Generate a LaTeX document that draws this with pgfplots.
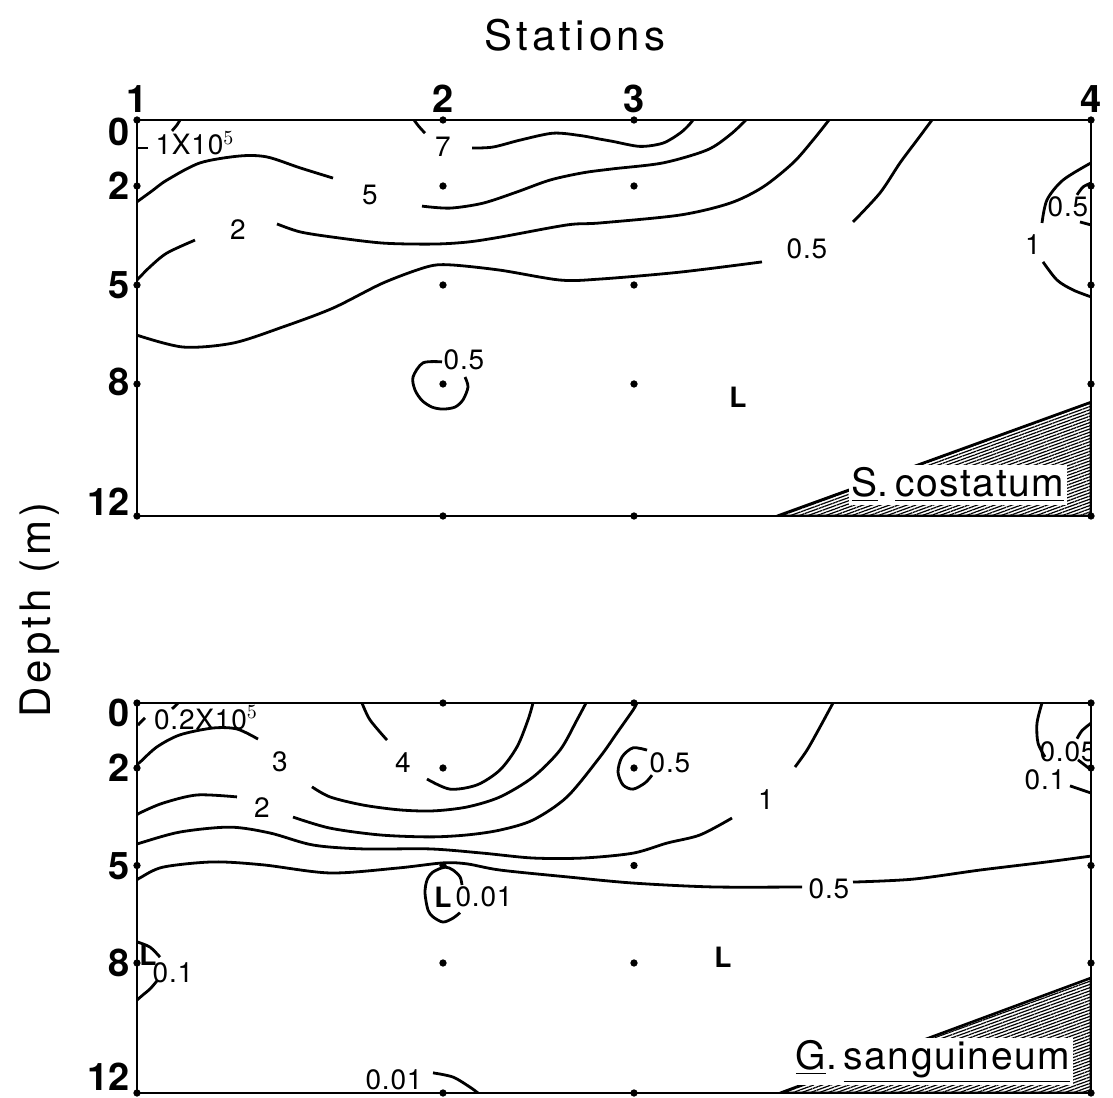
\documentclass[border=0pt]{standalone}
\usepackage{fontspec}
\setmainfont{TeX Gyre Heros}
\setsansfont{TeX Gyre Heros}
\usepackage{pgfplots}
\pgfplotsset{compat=1.18}
\usetikzlibrary{patterns.meta}

\newcommand\tl{\fontsize{19}{19}\selectfont\bfseries}
\newcommand\clab{\fontsize{14}{15}\selectfont\addfontfeatures{LetterSpace=3}}
\newcommand\splab{\fontsize{19.5}{20}\selectfont\addfontfeatures{LetterSpace=4}}
\newcommand\ttl{\fontsize{21}{22}\selectfont\addfontfeatures{LetterSpace=10}}
\newcommand\rb[2]{\raisebox{#1}[0pt][0pt]{\textbf{#2}}}

\pgfplotsset{
  panel/.style={
    anchor=south west, scale only axis, width=477pt,
    xmin=137, xmax=1091, ymin=0, ymax=12, y dir=reverse,
    axis line style={line width=1.4pt},
    major tick length=0pt,
    xtick={137,443,634,1091},
    ytick={0,2,5,8,12},
    yticklabel style={font=\tl},
    xticklabel style={font=\tl},
    clip=true,
  },
  cl/.style={black, line width=1.4pt, smooth, no marks},
  dots/.style={black, only marks, mark=*, mark size=1.6pt},
  tri/.style={draw=black, line width=1.3pt, pattern={Lines[angle=20,distance=1.5pt,line width=0.6pt]}},
}

\begin{document}
\begin{tikzpicture}[x=1pt,y=1pt]
\useasboundingbox (0,0) rectangle (556.5,548.5);

\node[font=\ttl] at (287.5,531) {Stations};
\node[font=\ttl, rotate=90] at (20,243.5) {Depth (m)};

% ---------------- top panel: S. costatum ----------------
\begin{axis}[panel, at={(68.5pt,290.5pt)}, height=198pt,
  xticklabel pos=upper,
  xticklabels={\textbf{1},\textbf{2},\textbf{3},\textbf{4}},
  yticklabels={\rb{-13pt}{0},\rb{-6.8pt}{2},\rb{-6.8pt}{5},\rb{-6pt}{8},\rb{0pt}{12}}]
\addplot[tri] coordinates {(777,12) (1091,8.55) (1091,12) (777,12)};
% 1x10^5
\addplot[cl] coordinates {(180,0) (177,0.15) (172,0.33)};
\addplot[black, line width=1.4pt, no marks] coordinates {(148,0.85) (137,0.85)};
% 7
\addplot[cl] coordinates {(414,0) (419,0.2) (425,0.4)};
\addplot[cl] coordinates {(472,0.85) (493,0.82) (520,0.61) (553,0.40) (580,0.47) (600,0.58) (613,0.65) (640,0.80) (663,0.70) (680,0.40) (689,0.15) (693,0)};
% 5
\addplot[cl] coordinates {(137,2.48) (152,2.15) (167,1.82) (200,1.30) (240,1.09) (267,1.12) (300,1.45) (333,1.76)};
\addplot[cl] coordinates {(422,2.61) (450,2.67) (483,2.52) (517,2.18) (550,1.82) (583,1.60) (613,1.48) (663,1.30) (707,0.91) (730,0.45) (746,0)};
% 2
\addplot[cl] coordinates {(137,4.85) (150,4.45) (167,4.03) (195,3.64)};
\addplot[cl] coordinates {(277,3.15) (300,3.39) (333,3.55) (383,3.73) (433,3.76) (467,3.70) (500,3.55) (567,3.18) (600,3.12) (680,2.88) (730,2.52) (763,2.03) (793,1.30) (813,0.61) (829,0)};
% 0.5 (long)
\addplot[cl] coordinates {(137,6.52) (183,6.88) (233,6.76) (283,6.27) (333,5.70) (383,4.94) (427,4.45) (450,4.39) (500,4.55) (560,4.85) (600,4.82) (680,4.61) (762,4.30)};
\addplot[cl] coordinates {(853,3.09) (880,2.21) (900,1.30) (917,0.61) (932,0)};
% station 4: 1 and 0.5
\addplot[cl] coordinates {(1091,1.30) (1063,1.82) (1047,2.42) (1042,3.12)};
\addplot[cl] coordinates {(1043,4.30) (1057,4.85) (1073,5.15) (1091,5.36)};
\addplot[cl] coordinates {(1091,1.91) (1083,2.03) (1077,2.27)};
\addplot[cl] coordinates {(1080,3.09) (1091,3.18)};
% 0.5 circle at station 2, 8 m
\addplot[cl] coordinates {(442,7.33) (423,7.36) (413,7.79) (415,8.18) (422,8.5) (432,8.7) (443,8.76) (455,8.7) (463,8.48) (468,8.09) (465,7.79)};
% sampling points
\addplot[dots] coordinates {(137,0) (137,2) (137,5) (137,8) (137,12)
  (443,0) (443,2) (443,5) (443,8) (443,12)
  (634,0) (634,2) (634,5) (634,8) (634,12)
  (1091,0) (1091,2) (1091,5) (1091,8) (1091,12)};
% labels
\node[font=\clab] at (axis cs:195,0.70) {1X10$^{5}$};
\node[font=\clab] at (axis cs:443,0.82) {7};
\node[font=\clab] at (axis cs:370,2.27) {5};
\node[font=\clab] at (axis cs:238,3.33) {2};
\node[font=\clab] at (axis cs:807,3.91) {0.5};
\node[font=\clab] at (axis cs:1033,3.79) {1};
\node[font=\clab, inner sep=0pt] at (axis cs:1068,2.64) {0.5};
\node[font=\clab] at (axis cs:464,7.27) {0.5};
\node[font=\clab\bfseries] at (axis cs:738,8.39) {L};
\node[font=\splab, fill=white, inner sep=1.5pt, anchor=base] at (axis cs:958,11.42) {\underline{S}.\,\underline{costatum}};
\end{axis}

% ---------------- bottom panel: G. sanguineum ----------------
\begin{axis}[panel, at={(68.5pt,2pt)}, height=195pt,
  xticklabels={},
  yticklabels={\rb{-12pt}{0},\rb{-6.8pt}{2},\rb{-6.8pt}{5},\rb{-6.8pt}{8},\rb{1.5pt}{12}}]
\addplot[tri] coordinates {(780,12) (1091,8.46) (1091,12) (780,12)};
% 0.2x10^5
\addplot[cl] coordinates {(178,0) (175,0.1) (172,0.18)};
\addplot[cl] coordinates {(145,0.46) (141,0.58) (138,0.68)};
% 3
\addplot[cl] coordinates {(137,1.88) (140,1.82) (157,1.35) (180,0.98) (213,0.77) (237,0.80) (258,1.11)};
\addplot[cl] coordinates {(312,2.58) (330,2.89) (363,3.14) (400,3.29) (433,3.32) (467,3.20) (500,2.89) (533,2.28) (560,1.45) (577,0.52) (586,0)};
% 4
\addplot[cl] coordinates {(362,0) (370,0.52) (387,1.14)};
\addplot[cl] coordinates {(427,2.34) (450,2.65) (477,2.52) (500,2.06) (517,1.35) (528,0.52) (533,0)};
% 2
\addplot[cl] coordinates {(137,3.45) (140,3.38) (163,3.08) (197,2.83) (237,2.89)};
\addplot[cl] coordinates {(293,3.51) (330,3.85) (380,4.06) (430,4.12) (467,4.06) (500,3.91) (533,3.60) (567,2.89) (600,1.66) (617,0.92) (633,0.22) (637,0)};
% 1
\addplot[cl] coordinates {(137,4.35) (140,4.31) (180,3.97) (230,3.82) (270,4.00) (313,4.37) (363,4.49) (430,4.49) (483,4.62) (533,4.77) (583,4.77) (633,4.62) (667,4.31) (700,4.06) (732,3.54)};
\addplot[cl] coordinates {(795,1.97) (807,1.45) (820,0.74) (833,0)};
% 0.5
\addplot[cl] coordinates {(137,5.45) (140,5.38) (163,5.05) (213,4.89) (263,4.98) (330,5.23) (397,5.08) (443,4.92) (467,4.95) (500,5.14) (567,5.35) (633,5.54) (713,5.66) (802,5.66)};
\addplot[cl] coordinates {(853,5.51) (913,5.42) (980,5.14) (1047,4.89) (1091,4.71)};
% 0.01 circle at station 2
\addplot[cl] coordinates {(462,5.6) (460,5.35) (453,5.14) (445,5.05) (433,5.2) (427,5.45) (425,5.85) (428,6.37) (433,6.58) (443,6.74) (453,6.62) (460,6.45)};
% 0.5 circle at station 3
\addplot[cl] coordinates {(647,1.45) (633,1.38) (622,1.66) (618,2.12) (623,2.52) (633,2.65) (645,2.46) (652,2.22)};
% 0.1 at station 1, 8 m
\addplot[cl] coordinates {(137,7.35) (150,7.51) (160,7.82)};
\addplot[cl] coordinates {(157,8.55) (150,8.8) (143,8.98) (137,9.14)};
% 0.01 at bottom
\addplot[cl] coordinates {(433,11.38) (453,11.51) (470,11.82) (478,12)};
% station 4: 0.1 and 0.05
\addplot[cl] coordinates {(1042,0) (1037,0.62) (1038,1.23) (1045,1.66)};
\addplot[cl] coordinates {(1070,2.55) (1091,2.77)};
\addplot[cl] coordinates {(1091,0.62) (1082,0.85) (1077,1.1)};
\addplot[cl] coordinates {(1078,1.75) (1091,2.06)};
% sampling points
\addplot[dots] coordinates {(137,0) (137,2) (137,5) (137,8) (137,12)
  (443,0) (443,2) (443,5) (443,8) (443,12)
  (634,0) (634,2) (634,5) (634,8) (634,12)
  (1091,0) (1091,2) (1091,5) (1091,8) (1091,12)};
% labels
\node[font=\clab] at (axis cs:206,0.46) {0.2X10$^{5}$};
\node[font=\clab] at (axis cs:280,1.82) {3};
\node[font=\clab] at (axis cs:403,1.82) {4};
\node[font=\clab] at (axis cs:262,3.23) {2};
\node[font=\clab] at (axis cs:766,2.98) {1};
\node[font=\clab] at (axis cs:829,5.72) {0.5};
\node[font=\clab] at (axis cs:670,1.85) {0.5};
\node[font=\clab\bfseries] at (axis cs:443,5.97) {L};
\node[font=\clab] at (axis cs:484,5.97) {0.01};
\node[font=\clab\bfseries] at (axis cs:148,7.75) {L};
\node[font=\clab] at (axis cs:173,8.31) {0.1};
\node[font=\clab] at (axis cs:394,11.6) {0.01};
\node[font=\clab] at (axis cs:1045,2.37) {0.1};
\node[font=\clab, inner sep=0pt] at (axis cs:1068,1.51) {0.05};
\node[font=\clab\bfseries] at (axis cs:723,7.82) {L};
\node[font=\splab, fill=white, inner sep=1.5pt, anchor=base] at (axis cs:933,11.29) {\underline{G}.\,\underline{sanguineum}};
\end{axis}
\end{tikzpicture}
\end{document}
